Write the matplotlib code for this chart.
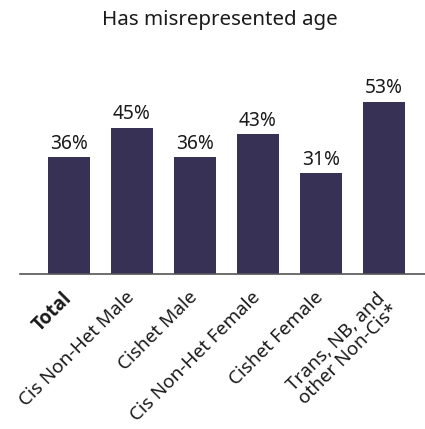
import matplotlib.pyplot as plt
import matplotlib.transforms as mtransforms
import numpy as np

categories = ["Total", "Cis Non-Het Male", "Cishet Male", "Cis Non-Het Female",
              "Cishet Female", "Trans, NB, and\nother Non-Cis*"]
values = [36, 45, 36, 43, 31, 53]

bar_color = "#373156"
plt.rcParams['font.family'] = ['Noto Sans', 'DejaVu Sans']

fig = plt.figure(figsize=(4.25, 4.29), dpi=100)
ax = fig.add_axes([0.047, 0.361, 0.953, 0.455])

x = np.arange(len(categories))
bars = ax.bar(x, values, width=0.667, color=bar_color)

for xi, v in zip(x, values):
    ax.text(xi, v + 1.0, f"{v}%", ha='center', va='bottom', fontsize=13.8, color='#1a1a1a')

ax.set_xlim(-0.778, 5.651)
ax.set_ylim(0, 60)
ax.set_yticks([])
ax.set_xticks(x)
ax.set_xticklabels(categories, rotation=45, ha='right', va='top',
                   rotation_mode='anchor', fontsize=13.6, multialignment='center',
                   linespacing=1.0, color='#1a1a1a')
ax.tick_params(axis='x', length=0, pad=10)

# nudge the slanted labels a little to the left
shift = mtransforms.ScaledTranslation(-5 / 72, 0, fig.dpi_scale_trans)
for lbl in ax.get_xticklabels():
    lbl.set_transform(lbl.get_transform() + shift)
first = ax.get_xticklabels()[0]
first.set_family(['Open Sans', 'DejaVu Sans'])
first.set_fontweight('bold')

for side in ['top', 'right', 'left']:
    ax.spines[side].set_visible(False)
ax.spines['bottom'].set_color('#555555')
ax.spines['bottom'].set_linewidth(1.2)

fig.text(0.518, 0.953, "Has misrepresented age", ha='center', va='center',
         fontsize=14.8, color='#1a1a1a')

fig.savefig("out.png", dpi=100)
